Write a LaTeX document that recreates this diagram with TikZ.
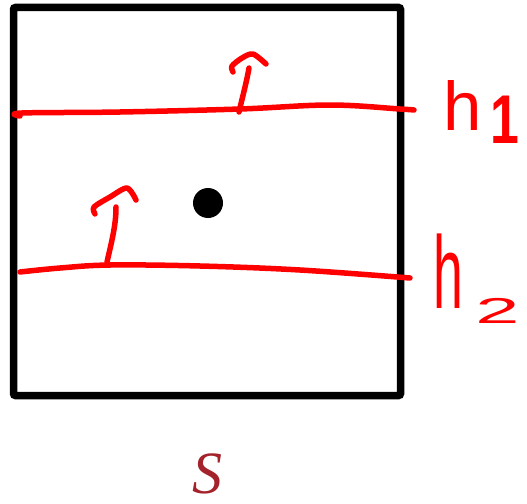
\documentclass[tikz,border=0pt]{standalone}
\usepackage{fontspec}
\setmainfont{Liberation Serif}
\newfontfamily\handfont{Liberation Sans}
\definecolor{penred}{HTML}{FF0000}
\definecolor{labelred}{HTML}{A3222B}
\begin{document}
\begin{tikzpicture}[x=1pt,y=-1pt,
  frame/.style={line width=7.5pt,rounded corners=2pt},
  stroke/.style={penred,line width=5.5pt,line cap=round,line join=round},
  hlabel/.style={penred,font=\handfont,inner sep=0pt,anchor=base west}]
\useasboundingbox (0,0) rectangle (527,503);
% square
\draw[frame] (13.5,7.5) rectangle (400.5,395.5);
% line h1
\draw[stroke] plot[smooth,tension=0.6] coordinates {(20,116) (22,113) (120,112) (240,109) (330,105) (400,109) (414,110)};
\draw[stroke] (239,112) .. controls (243,95) and (247,80) .. (249,68);
\draw[stroke] plot[smooth,tension=0.5] coordinates {(233,72) (232,66) (242,58) (253,54) (266,64)};
% line h2
\draw[stroke] plot[smooth,tension=0.6] coordinates {(20,272) (60,268) (110,265) (200,266) (300,270) (410,278)};
\draw[stroke] (107,262) .. controls (112,240) and (116,225) .. (116,207);
\draw[stroke] plot[smooth,tension=0.5] coordinates {(95,214) (94,207) (110,197) (127,188) (136,200)};
% dot
\node[circle,fill=black,minimum size=30pt,inner sep=0pt] (dot) at (208,203) {};
% labels
\node[hlabel] (h1) at (443.5,130) {\fontsize{69}{69}\selectfont h\hspace{8pt}\raisebox{-13pt}{\scalebox{0.75}[1]{\bfseries 1}}};
\node[hlabel] (h2) at (433.5,308) {\scalebox{0.52}[1]{\fontsize{103}{103}\selectfont h}\hspace{12pt}\raisebox{-15pt}{\scalebox{2.2}[1]{\fontsize{36}{36}\selectfont 2}}};
\node[labelred,inner sep=0pt,font=\fontsize{60}{60}\selectfont\itshape] (S) at (207,474) {S};
\end{tikzpicture}
\end{document}
